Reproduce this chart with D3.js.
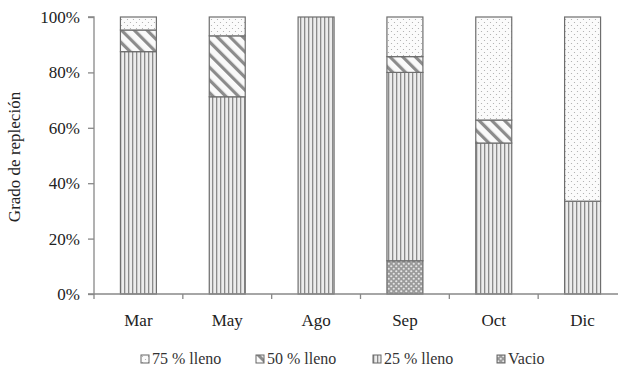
<!DOCTYPE html>
<html><head><meta charset="utf-8">
<script src="https://cdn.jsdelivr.net/npm/d3@7/dist/d3.min.js"></script>
<style>body{margin:0;background:#fff}svg{display:block}</style>
</head><body><div id="c"></div>
<script>
const categories = ["Mar","May","Ago","Sep","Oct","Dic"];
const seriesNames = ["Vacio","25 % lleno","50 % lleno","75 % lleno"];
const vacio   = [0, 0, 0, 12, 0, 0];
const lleno25 = [87.5, 71.2, 100, 68, 54.5, 33.5];
const lleno50 = [7.8, 22, 0, 5.7, 8.3, 0];
const lleno75 = [4.7, 6.8, 0, 14.3, 37.2, 66.5];
const yTicks = [0,20,40,60,80,100];
const legendOrder = ["75 % lleno","50 % lleno","25 % lleno","Vacio"];

(function(){
const W=618,H=366;
const svg=d3.select("#c").append("svg").attr("width",W).attr("height",H);
const defs=svg.append("defs");
const pVert=defs.append("pattern").attr("id","p25").attr("patternUnits","userSpaceOnUse").attr("width",4).attr("height",4);
pVert.append("rect").attr("width",4).attr("height",4).attr("fill","#ececec");
pVert.append("rect").attr("x",0).attr("width",1.3).attr("height",4).attr("fill","#8a8a8a");
const pDiag=defs.append("pattern").attr("id","p50").attr("patternUnits","userSpaceOnUse").attr("width",9).attr("height",9).attr("patternTransform","rotate(-45)");
pDiag.append("rect").attr("width",9).attr("height",9).attr("fill","#fafafa");
pDiag.append("rect").attr("x",0).attr("width",3.2).attr("height",9).attr("fill","#8c8c8c");
const pDot=defs.append("pattern").attr("id","p75").attr("patternUnits","userSpaceOnUse").attr("width",6).attr("height",6);
pDot.append("rect").attr("width",6).attr("height",6).attr("fill","#fbfbfb");
pDot.append("circle").attr("cx",1.5).attr("cy",1.5).attr("r",0.6).attr("fill","#a8a8a8");
pDot.append("circle").attr("cx",4.5).attr("cy",4.5).attr("r",0.6).attr("fill","#a8a8a8");
const pVac=defs.append("pattern").attr("id","pv").attr("patternUnits","userSpaceOnUse").attr("width",5).attr("height",5);
pVac.append("rect").attr("width",5).attr("height",5).attr("fill","#9a9a9a");
pVac.append("circle").attr("cx",1.25).attr("cy",1.25).attr("r",1.1).attr("fill","#e6e6e6");
pVac.append("circle").attr("cx",3.75).attr("cy",3.75).attr("r",1.1).attr("fill","#e6e6e6");
const fills={"Vacio":"url(#pv)","25 % lleno":"url(#p25)","50 % lleno":"url(#p50)","75 % lleno":"url(#p75)"};

const mL=94,mR=627,mT=17,mB=294;
const x=d3.scaleBand().domain(categories).range([mL,mR]).paddingInner(0.595).paddingOuter(0.2975);
const y=d3.scaleLinear().domain([0,100]).range([mB,mT]);

const rows=categories.map((c,i)=>({cat:c,"Vacio":vacio[i],"25 % lleno":lleno25[i],"50 % lleno":lleno50[i],"75 % lleno":lleno75[i]}));
const stack=d3.stack().keys(seriesNames)(rows);

const g=svg.append("g");
stack.forEach(s=>{
  g.selectAll(null).data(s.filter(d=>d[1]-d[0]>0)).enter().append("rect")
   .attr("x",d=>x(d.data.cat)).attr("width",x.bandwidth())
   .attr("y",d=>y(d[1])).attr("height",d=>y(d[0])-y(d[1]))
   .attr("fill",fills[s.key]).attr("stroke","#6e6e6e").attr("stroke-width",1.2);
});

const yAxis=d3.axisLeft(y).tickValues(yTicks).tickFormat(d=>d+"%").tickSize(6).tickPadding(8);
const ya=svg.append("g").attr("transform",`translate(${mL},0)`).call(yAxis);
ya.select(".domain").attr("stroke","#888").attr("stroke-width",1.3).attr("d",`M-6,${mT}H0V${mB}H-6`);
ya.selectAll(".tick line").attr("stroke","#888").attr("stroke-width",1.3);
ya.selectAll("text").attr("font-family","Liberation Serif").attr("font-size",17).attr("fill","#222");

const xa=svg.append("g").attr("transform",`translate(0,${mB})`);
xa.append("line").attr("x1",mL).attr("x2",mR).attr("stroke","#888").attr("stroke-width",1.3);
const bounds=categories.map((c,i)=>mL+(i+1)*((mR-mL)/categories.length));
xa.selectAll(null).data([mL,...bounds]).enter().append("line")
  .attr("x1",d=>d).attr("x2",d=>d).attr("y1",0).attr("y2",5).attr("stroke","#888").attr("stroke-width",1.3);
xa.selectAll(null).data(categories).enter().append("text")
  .attr("x",d=>x(d)+x.bandwidth()/2).attr("y",32).attr("text-anchor","middle")
  .attr("font-family","Liberation Serif").attr("font-size",17).attr("fill","#222").text(d=>d);

svg.append("text").attr("transform","translate(20,157) rotate(-90)").attr("text-anchor","middle")
  .attr("font-family","Liberation Serif").attr("font-size",17).attr("fill","#222").text("Grado de repleción");

const legX=[141,256,373,497];
const leg=svg.append("g");
legendOrder.forEach((k,i)=>{
  const lg=leg.append("g").attr("transform",`translate(${legX[i]},355)`);
  lg.append("rect").attr("x",0).attr("y",0).attr("width",8).attr("height",8).attr("fill",fills[k]).attr("stroke","#666").attr("stroke-width",1);
  lg.append("text").attr("x",11).attr("y",9).attr("font-family","Liberation Serif").attr("font-size",16).attr("fill","#333").text(k);
});
})();
</script></body></html>
